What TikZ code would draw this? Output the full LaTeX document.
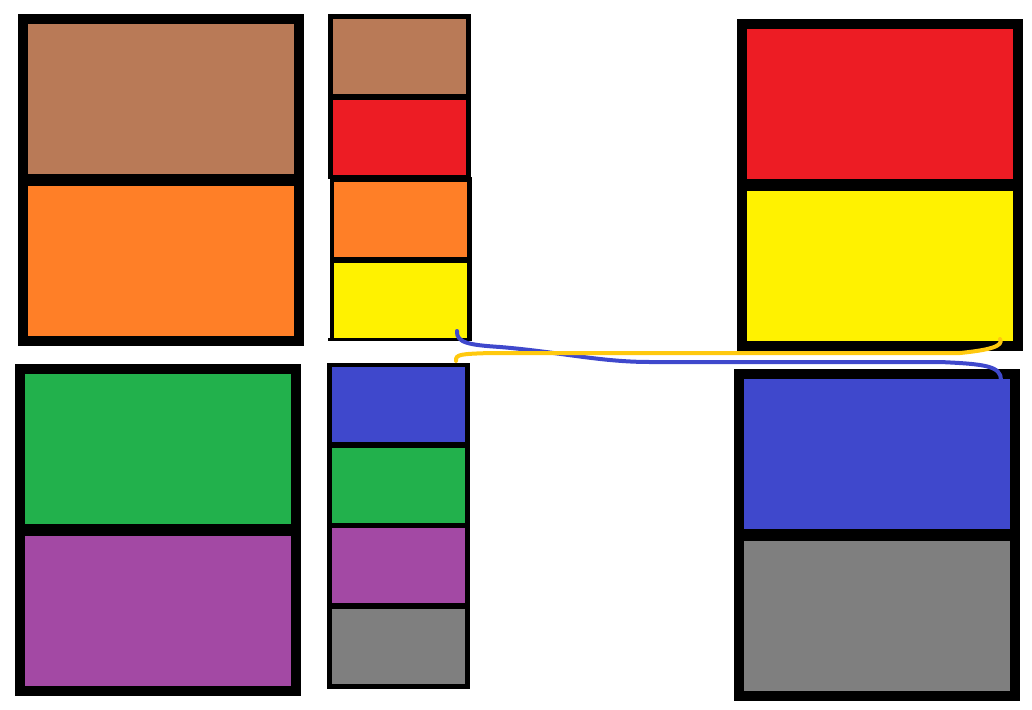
\documentclass[tikz,border=0pt]{standalone}
\definecolor{cbrown}{HTML}{B97A57}
\definecolor{corange}{HTML}{FF7F27}
\definecolor{cred}{HTML}{ED1C24}
\definecolor{cyellow}{HTML}{FFF200}
\definecolor{cgreen}{HTML}{22B14C}
\definecolor{cpurple}{HTML}{A349A4}
\definecolor{cblue}{HTML}{3F48CC}
\definecolor{cgray}{HTML}{7F7F7F}
\definecolor{cgold}{HTML}{FFC90E}
\tikzset{
  frame/.style={fill=black},
  wire/.style={line width=4pt, line cap=round, line join=round}
}
\begin{document}
\begin{tikzpicture}[x=1pt,y=-1pt]
\useasboundingbox (0,0) rectangle (1032,709);
% top-left
\fill[frame] (18,14) rectangle (304,346);
\fill[cbrown] (28,24) rectangle (294,174);
\fill[corange] (28,186) rectangle (294,336);
% bottom-left
\fill[frame] (15,364) rectangle (301,696);
\fill[cgreen] (25,374) rectangle (291,524);
\fill[cpurple] (25,536) rectangle (291,686);
% middle top
\fill[frame] (328,14) rectangle (471,179);
\fill[frame] (330,177) rectangle (472,341);
\fill[frame] (328,338) rectangle (472,341);
\fill[cbrown] (333,19) rectangle (466,94);
\fill[cred] (333,100) rectangle (466,175);
\fill[corange] (334,182) rectangle (467,257);
\fill[cyellow] (334,263) rectangle (467,338);
% middle bottom
\fill[frame] (327,363) rectangle (470,689);
\fill[cblue] (332,367) rectangle (465,442);
\fill[cgreen] (332,448) rectangle (465,523);
\fill[cpurple] (332,528) rectangle (465,603);
\fill[cgray] (332,609) rectangle (465,684);
% top-right
\fill[frame] (737,19) rectangle (1023,351);
\fill[cred] (747,29) rectangle (1013,179);
\fill[cyellow] (747,191) rectangle (1013,341);
% bottom-right
\fill[frame] (734,369) rectangle (1020,701);
\fill[cblue] (744,379) rectangle (1010,529);
\fill[cgray] (744,541) rectangle (1010,691);
% connectors
\coordinate (bs) at (457,331);
\coordinate (be) at (1001,380);
\coordinate (ys) at (456,361);
\coordinate (ye) at (1000,339);
\draw[wire, cblue] (bs) .. controls (456,343) and (470,345) .. (500,347)
  .. controls (560,352) and (600,362) .. (650,362)
  -- (940,362) .. controls (985,364) and (1001,366) .. (be);
\draw[wire, cgold] (ys) .. controls (455,354) and (462,354) .. (490,353)
  -- (960,353) .. controls (990,350) and (1004,346) .. (ye);
\end{tikzpicture}
\end{document}
